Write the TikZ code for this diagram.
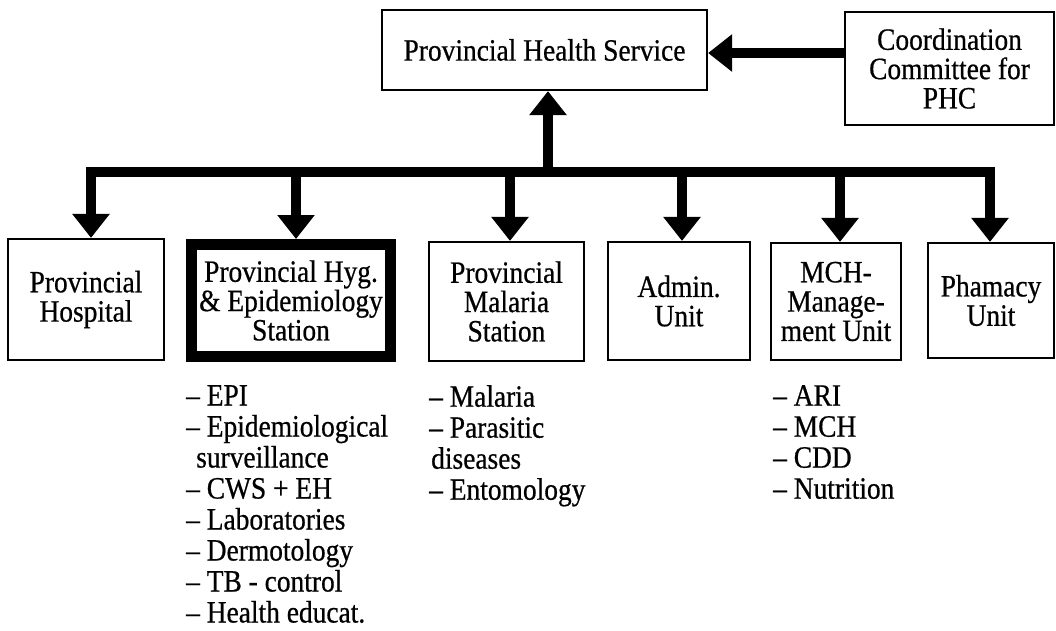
\documentclass[tikz,border=0pt]{standalone}
\usepackage{fontspec}
\setmainfont{Liberation Serif}[FakeStretch=0.885, FakeBold=0.6]
\usetikzlibrary{arrows.meta}
\newcommand\boxfont{\fontsize{31}{29.3}\selectfont}
\newcommand\listfont{\fontsize{31}{31}\selectfont}
\begin{document}
\begin{tikzpicture}[x=1pt,y=-1pt,
  unitbox/.style={draw, line width=2.2pt, inner sep=0pt, align=center, font=\boxfont},
  keybox/.style={unitbox, line width=11pt},
  tasklist/.style={anchor=north west, inner sep=0pt, align=left, font=\listfont},
  bigarrow/.style={line width=10pt, -{Triangle[length=24pt,width=36pt]}},
  busline/.style={line width=10pt, line cap=rect}
]
\useasboundingbox (0,0) rectangle (1056,630);

% top level
\node[unitbox, minimum width=325pt, minimum height=80pt] (phs) at (544.5,50) {Provincial Health Service};
\node[unitbox, minimum width=209pt, minimum height=113pt] (coord) at (949.5,68.5) {Coordination\\Committee for\\PHC};

% units
\node[unitbox, minimum width=156pt, minimum height=121pt] (hosp) at (86,299.5) {Provincial\\Hospital};
\node[keybox, minimum width=199pt, minimum height=112pt] (hyg) at (291,300.5) {Provincial Hyg.\\\& Epidemiology\\Station};
\node[unitbox, minimum width=155pt, minimum height=119pt] (mal) at (506.5,301.5) {Provincial\\Malaria\\Station};
\node[unitbox, minimum width=142pt, minimum height=118pt] (adm) at (679,301) {Admin.\\Unit};
\node[unitbox, minimum width=130pt, minimum height=117pt] (mch) at (836,301.5) {MCH-\\Manage-\\ment Unit};
\node[unitbox, minimum width=126pt, minimum height=115pt] (pha) at (991,300.5) {Phamacy\\Unit};

% task lists
\node[tasklist] (hyglist) at (186,385) {– EPI\\– Epidemiological\\\hspace*{10pt}surveillance\\– CWS + EH\\– Laboratories\\– Dermotology\\– TB - control\\– Health educat.};
\node[tasklist] (mallist) at (429,385) {– Malaria\\– Parasitic\\\hspace*{2pt}diseases\\– Entomology};
\node[tasklist] (mchlist) at (773,385) {– ARI\\– MCH\\– CDD\\– Nutrition};

% connectors
\coordinate (hy) at (776,53);
\draw[bigarrow] (coord.west |- hy) -- (phs.east |- hy);

\coordinate (busM) at (548,172);
\draw[bigarrow] (busM) -- (busM |- phs.south);

\coordinate (bus1) at (91,172);
\coordinate (bus2) at (296,172);
\coordinate (bus3) at (510,172);
\coordinate (bus4) at (682,172);
\coordinate (bus5) at (840,172);
\coordinate (bus6) at (990,172);
\draw[busline] (bus1) -- (bus6);
\draw[bigarrow] (bus1) -- (bus1 |- hosp.north);
\draw[bigarrow] (bus2) -- (bus2 |- hyg.north);
\draw[bigarrow] (bus3) -- (bus3 |- mal.north);
\draw[bigarrow] (bus4) -- (bus4 |- adm.north);
\draw[bigarrow] (bus5) -- (bus5 |- mch.north);
\draw[bigarrow] (bus6) -- (bus6 |- pha.north);
\end{tikzpicture}
\end{document}
